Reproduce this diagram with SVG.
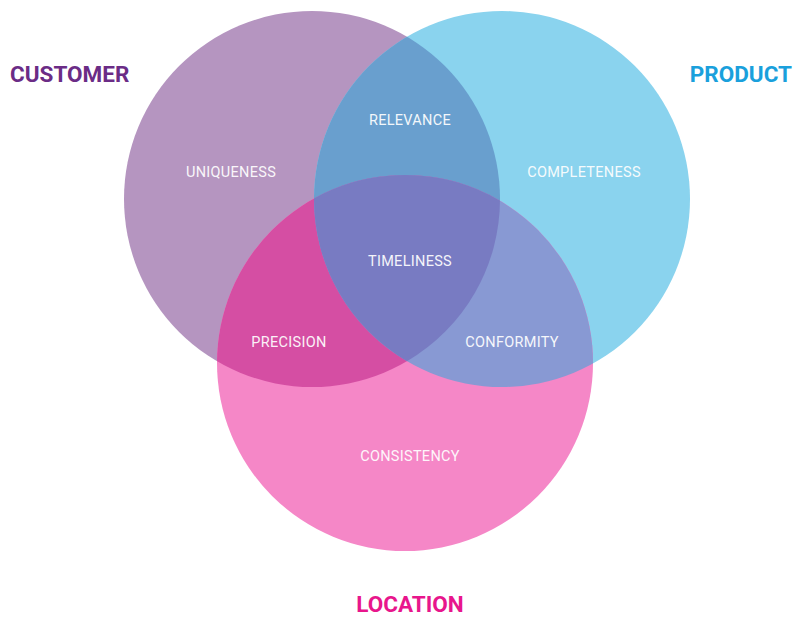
<svg xmlns="http://www.w3.org/2000/svg" width="802" height="617" viewBox="0 0 802 617">
<style>
.t{font-family:Roboto,"Liberation Sans",sans-serif;font-size:14.5px;letter-spacing:0.3px;fill:#ffffff;text-anchor:middle;opacity:0.92}
.h{font-family:Roboto,"Liberation Sans",sans-serif;font-size:22.5px;font-weight:bold}
</style>
<defs>
<clipPath id="cC"><circle cx="312" cy="199" r="188"/></clipPath>
<clipPath id="cP"><circle cx="502" cy="199" r="188"/></clipPath>
<clipPath id="cCP" clip-path="url(#cC)"><circle cx="502" cy="199" r="188"/></clipPath>
</defs>
<rect width="802" height="617" fill="#ffffff"/>
<g id="customer">
<circle cx="312" cy="199" r="188" fill="#b595c0"/>
</g>
<g id="product">
<circle cx="502" cy="199" r="188" fill="#8ad3ee"/>
</g>
<g id="location">
<circle cx="405" cy="363" r="188" fill="#f587c7"/>
</g>
<g id="overlaps">
<circle cx="502" cy="199" r="188" fill="#699fce" clip-path="url(#cC)"/>
<circle cx="405" cy="363" r="188" fill="#d54ea3" clip-path="url(#cC)"/>
<circle cx="405" cy="363" r="188" fill="#8899d3" clip-path="url(#cP)"/>
<circle cx="405" cy="363" r="188" fill="#787bc2" clip-path="url(#cCP)"/>
</g>
<g id="labels">
<text class="h" x="10" y="82" fill="#6b2c86">CUSTOMER</text>
<text class="h" x="792" y="82" fill="#1aa0dc" text-anchor="end">PRODUCT</text>
<text class="h" x="410" y="612" fill="#e8168c" text-anchor="middle">LOCATION</text>
<text class="t" x="410" y="125">RELEVANCE</text>
<text class="t" x="231" y="177">UNIQUENESS</text>
<text class="t" x="584" y="177">COMPLETENESS</text>
<text class="t" x="410" y="266">TIMELINESS</text>
<text class="t" x="289" y="347">PRECISION</text>
<text class="t" x="512" y="347">CONFORMITY</text>
<text class="t" x="410" y="461">CONSISTENCY</text>
</g>
</svg>
